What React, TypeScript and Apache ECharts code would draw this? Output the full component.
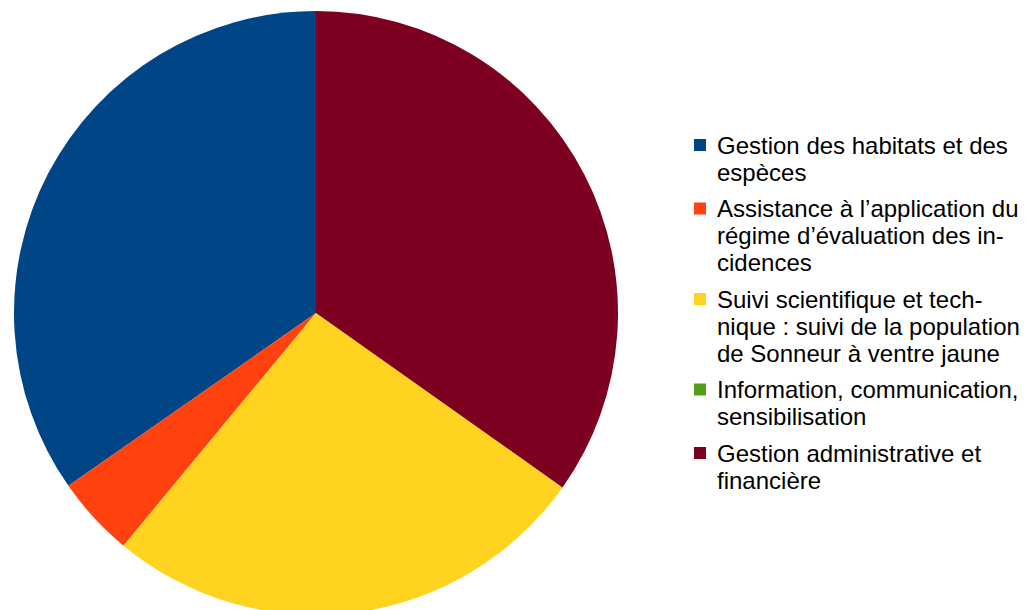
import React, { useEffect, useRef } from "react";
import * as echarts from "echarts";

const categories = [
  "Gestion des habitats et des\nespèces",
  "Assistance à l’application du\nrégime d’évaluation des in-\ncidences",
  "Suivi scientifique et tech-\nnique : suivi de la population\nde Sonneur à ventre jaune",
  "Information, communication,\nsensibilisation",
  "Gestion administrative et\nfinancière",
];
const values = [34.7, 4.3, 26.2, 0, 34.8];
const colors = ["#004586", "#ff420e", "#ffd320", "#579d1c", "#7e0021"];

const LINE_H = 27;
const ITEM_GAP = 9.5;
const LEGEND_X = 694;
const LEGEND_TOP = 145; // centre of first line
const ICON = 12;
const FONT = "24px 'Liberation Sans', Arial, sans-serif";

function buildLegend() {
  const els: any[] = [];
  let y = LEGEND_TOP;
  categories.forEach((name, i) => {
    const n = name.split("\n").length;
    els.push({
      type: "rect",
      silent: true,
      shape: { x: LEGEND_X, y: y - ICON / 2, width: ICON, height: ICON },
      style: { fill: colors[i] },
    });
    els.push({
      type: "text",
      silent: true,
      x: LEGEND_X + ICON + 11,
      y: y - LINE_H / 2,
      style: {
        text: name,
        font: FONT,
        lineHeight: LINE_H,
        fill: "#000",
        verticalAlign: "top",
        align: "left",
      },
    });
    y += n * LINE_H + ITEM_GAP;
  });
  return els;
}

export default function App() {
  const ref = useRef<HTMLDivElement>(null);
  useEffect(() => {
    if (!ref.current) return;
    const chart = echarts.init(ref.current, null, { renderer: "svg" });
    chart.setOption({
      animation: false,
      color: colors,
      graphic: buildLegend(),
      series: [
        {
          type: "pie",
          center: [316, 313],
          radius: 302,
          startAngle: 90,
          clockwise: false,
          silent: true,
          label: { show: false },
          labelLine: { show: false },
          itemStyle: { borderWidth: 0 },
          data: categories.map((name, i) => ({ name, value: values[i] })),
        },
      ],
    });
    return () => chart.dispose();
  }, []);
  return (
    <div
      ref={ref}
      style={{ position: "absolute", left: 0, top: 0, width: 1028, height: 610 }}
    />
  );
}
